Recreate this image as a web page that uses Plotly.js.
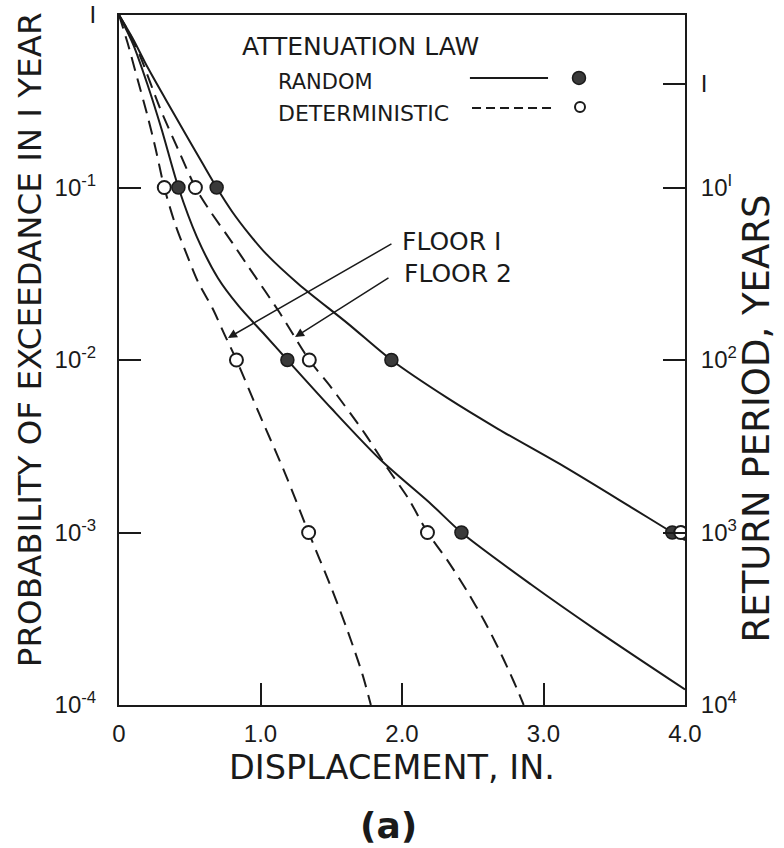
<!DOCTYPE html>
<html>
<head>
<meta charset="utf-8">
<script src="https://cdn.plot.ly/plotly-3.0.1.min.js"></script>
<style>html,body{margin:0;padding:0;background:#fff;}#chart{width:784px;height:848px;}</style>
</head>
<body>
<div id="chart"></div>
<script>
// ---- data ----
// Floor 1, deterministic attenuation (dashed, leftmost)
var f1DetX = [0, 0.06, 0.13, 0.2, 0.26, 0.32, 0.40, 0.48, 0.56, 0.66, 0.75, 0.83, 0.99, 1.17, 1.34, 1.50, 1.62, 1.72, 1.78];
var f1DetP = [1, 0.692, 0.427, 0.263, 0.166, 0.1, 0.0603, 0.0407, 0.0282, 0.02, 0.0138, 0.01, 0.0049, 0.00224, 0.001, 0.000479, 0.000263, 0.000151, 0.0001];
// Floor 2, deterministic attenuation (dashed)
var f2DetX = [0, 0.07, 0.15, 0.29, 0.43, 0.54, 0.63, 0.80, 0.915, 1.13, 1.345, 1.50, 1.74, 1.90, 2.05, 2.18, 2.32, 2.46, 2.58, 2.68, 2.76, 2.82, 2.86];
var f2DetP = [1, 0.794, 0.575, 0.288, 0.158, 0.1, 0.0759, 0.0479, 0.0347, 0.0191, 0.01, 0.00692, 0.00372, 0.00234, 0.00155, 0.001, 0.000692, 0.000457, 0.000309, 0.000214, 0.000155, 0.00012, 0.0001];
// Floor 1, random attenuation (solid, middle)
var f1RanX = [0, 0.1, 0.2, 0.3, 0.42, 0.55, 0.7, 0.845, 1.03, 1.19, 1.50, 1.85, 2.21, 2.42, 2.91, 3.38, 4.0];
var f1RanP = [1, 0.676, 0.398, 0.219, 0.1, 0.0518, 0.0298, 0.0206, 0.014, 0.01, 0.00525, 0.00263, 0.00145, 0.001, 0.000501, 0.000269, 0.000123];
// Floor 2, random attenuation (solid, top)
var f2RanX = [0, 0.1, 0.2, 0.33, 0.47, 0.59, 0.69, 0.8, 0.92, 1.04, 1.27, 1.62, 1.925, 2.32, 2.68, 3.15, 3.62, 3.91, 4.0];
var f2RanP = [1, 0.724, 0.501, 0.324, 0.204, 0.138, 0.1, 0.0724, 0.0537, 0.0412, 0.0275, 0.0162, 0.01, 0.00603, 0.00398, 0.0024, 0.0014, 0.001, 0.000902];
// plotted symbols
var filledX = [0.42, 0.69, 1.19, 1.925, 2.42, 3.91];
var filledP = [0.1, 0.1, 0.01, 0.01, 0.001, 0.001];
var openX = [0.32, 0.54, 0.83, 1.345, 1.34, 2.18, 3.97];
var openP = [0.1, 0.1, 0.01, 0.01, 0.001, 0.001, 0.001];
// axis ticks
var xTickVals = [0, 1, 2, 3, 4];
var xTickText = ["0", "1.0", "2.0", "3.0", "4.0"];
var probTickVals = [1, 0.1, 0.01, 0.001, 0.0001];
var probTickText = ["I", "10<sup>-1</sup>", "10<sup>-2</sup>", "10<sup>-3</sup>", "10<sup>-4</sup>"];
var retTickVals = [0.4, 0.1, 0.01, 0.001, 0.0001];
var retTickText = ["I", "10<sup>I</sup>", "10<sup>2</sup>", "10<sup>3</sup>", "10<sup>4</sup>"];

var INK = '#1a1a1a';
var TFONT = 'DejaVu Sans, sans-serif';
var NFONT = 'Liberation Sans, Arial, sans-serif';
var dashLong = '14px,8px';

function curve(x, y, dash) {
  return {x: x, y: y, type: 'scatter', mode: 'lines', showlegend: false, hoverinfo: 'skip',
          line: {color: INK, width: 2, dash: dash, shape: 'spline', smoothing: 0.8}};
}
var traces = [
  curve(f1DetX, f1DetP, dashLong),
  curve(f2DetX, f2DetP, dashLong),
  curve(f1RanX, f1RanP, 'solid'),
  curve(f2RanX, f2RanP, 'solid'),
  {x: filledX, y: filledP, type: 'scatter', mode: 'markers', showlegend: false, cliponaxis: true,
   marker: {symbol: 'circle', size: 13, color: '#3a3a3a', line: {color: INK, width: 1.5}}},
  {x: openX, y: openP, type: 'scatter', mode: 'markers', showlegend: false, cliponaxis: true,
   marker: {symbol: 'circle', size: 13, color: '#fff', line: {color: INK, width: 2}}},
  {x: [null], y: [null], yaxis: 'y2', type: 'scatter', mode: 'markers', showlegend: false}
];

function txt(t, x, y, size, opts) {
  var a = {text: t, x: x, y: y, xref: 'paper', yref: 'paper', showarrow: false,
           xanchor: 'left', yanchor: 'middle', font: {family: TFONT, size: size, color: INK}};
  for (var k in (opts || {})) a[k] = opts[k];
  return a;
}
var annotations = [
  txt('ATTENUATION LAW', 0.2138, 0.955, 25),
  txt('RANDOM', 0.2774, 0.9033, 21),
  txt('DETERMINISTIC', 0.2774, 0.8575, 22),
  txt('FLOOR I', 0.4965, 0.6714, 25),
  txt('FLOOR 2', 0.4995, 0.626, 25),
  txt('PROBABILITY OF EXCEEDANCE IN I YEAR', -0.157, 0.529, 32.5, {xanchor: 'center', textangle: -90}),
  txt('RETURN PERIOD, YEARS', 1.128, 0.416, 37, {xanchor: 'center', textangle: -90}),
  txt('DISPLACEMENT, IN.', 0.482, -0.0913, 33.5, {xanchor: 'center'}),
  txt('(a)', 0.477, -0.174, 36, {xanchor: 'center', font: {family: TFONT, size: 36, color: INK, weight: 'bold'}}),
  {text: '', x: 0.770, y: -1.872, ax: 1.936, ay: -1.322, xref: 'x', yref: 'y', axref: 'x', ayref: 'y',
   showarrow: true, arrowhead: 2, arrowsize: 1.2, arrowwidth: 1.5, arrowcolor: INK},
  {text: '', x: 1.244, y: -1.867, ax: 1.915, ay: -1.519, xref: 'x', yref: 'y', axref: 'x', ayref: 'y',
   showarrow: true, arrowhead: 2, arrowsize: 1.2, arrowwidth: 1.5, arrowcolor: INK}
];

var shapes = [
  {type: 'line', xref: 'paper', yref: 'paper', x0: 0.620, x1: 0.758, y0: 0.9087, y1: 0.9087, line: {color: INK, width: 2}},
  {type: 'line', xref: 'paper', yref: 'paper', x0: 0.6237, x1: 0.7703, y0: 0.8652, y1: 0.8652, line: {color: INK, width: 2, dash: '9px,5px'}},
  {type: 'circle', xref: 'paper', yref: 'paper', xsizemode: 'pixel', ysizemode: 'pixel', xanchor: 0.8127, yanchor: 0.9087,
   x0: -6.5, x1: 6.5, y0: -6.5, y1: 6.5, fillcolor: '#3a3a3a', line: {color: INK, width: 1.5}},
  {type: 'circle', xref: 'paper', yref: 'paper', xsizemode: 'pixel', ysizemode: 'pixel', xanchor: 0.8145, yanchor: 0.8667,
   x0: -5, x1: 5, y0: -5, y1: 5, fillcolor: '#fff', line: {color: INK, width: 2}}
];

var axisCommon = {showgrid: false, zeroline: false, showline: true, linecolor: INK, linewidth: 2,
                  ticks: 'inside', ticklen: 22, tickwidth: 2, tickcolor: INK,
                  tickfont: {family: NFONT, size: 24, color: INK}};

var layout = {
  width: 784, height: 848,
  margin: {l: 119, r: 99, t: 15, b: 143, pad: 0},
  paper_bgcolor: '#fff', plot_bgcolor: '#fff',
  showlegend: false,
  xaxis: Object.assign({}, axisCommon, {range: [0, 4], tickmode: 'array', tickvals: xTickVals, ticktext: xTickText,
          mirror: true, ticklabelstandoff: 6}),
  yaxis: Object.assign({}, axisCommon, {type: 'log', range: [-4, 0], tickmode: 'array', tickvals: probTickVals,
          ticktext: probTickText, ticklabelstandoff: 16}),
  yaxis2: Object.assign({}, axisCommon, {type: 'log', range: [-4, 0], overlaying: 'y', side: 'right', anchor: 'x',
          tickmode: 'array', tickvals: retTickVals, ticktext: retTickText, ticklabelstandoff: 9}),
  annotations: annotations,
  shapes: shapes
};

Plotly.newPlot('chart', traces, layout, {displayModeBar: false, staticPlot: true});
</script>
</body>
</html>
